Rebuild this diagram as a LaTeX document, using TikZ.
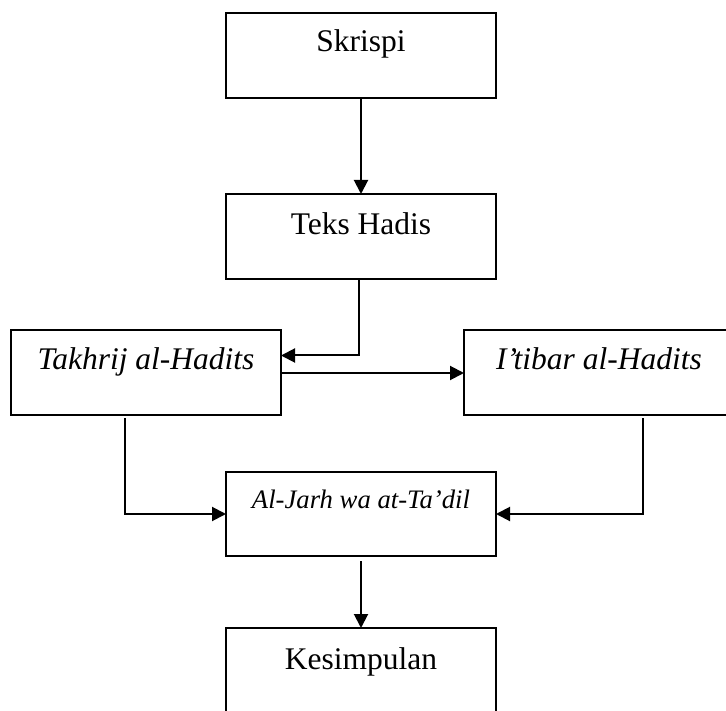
\documentclass[tikz,border=0pt]{standalone}
\usepackage{fontspec}
\setmainfont{Liberation Serif}
\usetikzlibrary{arrows.meta}
\begin{document}
\begin{tikzpicture}[x=1pt,y=-1pt,
  box/.style={draw, line width=2pt, minimum width=270pt, minimum height=85pt, inner sep=0pt, outer sep=0pt},
  lbl/.style={anchor=base, inner sep=0pt, font=\fontsize{31.5}{36}\selectfont},
  lbli/.style={anchor=base, inner sep=0pt, font=\fontsize{31.5}{36}\selectfont\itshape},
  lbls/.style={anchor=base, inner sep=0pt, font=\fontsize{26.7}{32}\selectfont\itshape},
  conn/.style={line width=2pt, -{Triangle[length=14pt,width=14pt]}}]
\useasboundingbox (0,0) rectangle (726,711);
% boxes
\node[box] (S)  at (361,55.5)  {};
\node[box] (TH) at (361,236.5) {};
\node[box] (TK) at (146,372.5) {};
\node[box] (IT) at (599,372.5) {};
\node[box, minimum height=84pt] (AJ) at (361,514) {};
\node[box] (KS) at (361,670.5) {};
% texts
\node[lbl]  (tS)  at (361,52)  {Skrispi};
\node[lbl]  (tTH) at (361,235) {Teks Hadis};
\node[lbli] (tTK) at (146,370) {Takhrij al-Hadits};
\node[lbli] (tIT) at (599,370) {I’tibar al-Hadits};
\node[lbls] (tAJ) at (361,508) {Al-Jarh wa at-Ta’dil};
\node[lbl]  (tKS) at (361,669) {Kesimpulan};
% connectors
\draw[conn] (S.south) -- (TH.north);
\draw[conn] ([xshift=-2pt]TH.south) |- ([yshift=17pt]TK.east);
\draw[conn] ([yshift=-0.5pt]TK.east) -- ([yshift=-0.5pt]IT.west);
\draw[conn] ([xshift=-21pt,yshift=-3pt]TK.south) |- (AJ.west);
\draw[conn] ([xshift=44pt,yshift=-3pt]IT.south) |- (AJ.east);
\draw[conn] ([yshift=-5pt]AJ.south) -- (KS.north);
\end{tikzpicture}
\end{document}
